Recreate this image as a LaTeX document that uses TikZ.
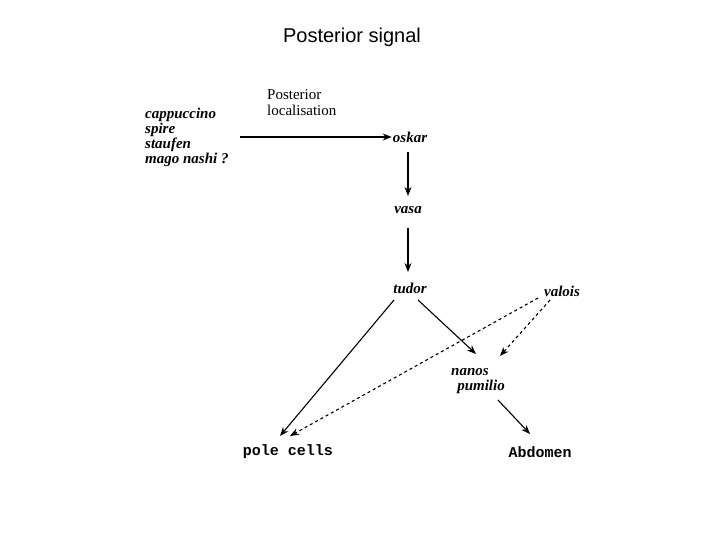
\documentclass[tikz,border=0pt]{standalone}
\usepackage{fontspec}
\setmainfont{Liberation Serif}
\newfontfamily\arialf{Liberation Sans}
\newfontfamily\monof{Liberation Mono}
\usetikzlibrary{arrows.meta}
\begin{document}
\begin{tikzpicture}[x=1pt,y=-1pt,
  gene/.style={font=\bfseries\itshape\fontsize{15}{17}\selectfont,inner sep=1pt},
  mono/.style={font=\monof\bfseries\fontsize{15}{17}\selectfont,inner sep=1pt},
  arr/.style={-{Stealth[length=9pt,width=7pt]},line width=1.1pt},
  darr/.style={arr,dashed}]
\useasboundingbox (0,0) rectangle (720,540);
\node[font=\arialf\fontsize{20}{24}\selectfont] (title) at (352,37) {Posterior signal};
\node[gene,anchor=north west,align=left] (list) at (144,107) {cappuccino\\[-2pt]spire\\[-2pt]staufen\\[-2pt]mago nashi ?};
\node[anchor=north west,align=left,font=\fontsize{15}{16}\selectfont,inner sep=1pt] (pl) at (266,88) {Posterior\\localisation};
\node[gene] (oskar) at (410,137) {oskar};
\node[gene] (vasa) at (408,210) {vasa};
\node[gene] (tudor) at (410,288) {tudor};
\node[gene] (valois) at (562,291) {valois};
\node[gene,align=left] (nanos) at (478,381) {nanos\\[-2pt]\hspace{6pt}pumilio};
\node[mono] (pole) at (288,452) {pole cells};
\node[mono] (abd) at (540,452) {Abdomen};
\coordinate (ls) at (240,137);
\draw[arr] (ls) -- (oskar.west);
\draw[arr] (408,152) -- (408,196);
\draw[arr] (408,228) -- (408,272);
\draw[arr] (394,300) -- (280,436);
\draw[arr] (418,300) -- (476,354);
\draw[darr] (538,298) -- (290,436);
\draw[darr] (550,300) -- (500,356);
\draw[arr] (498,400) -- (530,434);
\end{tikzpicture}
\end{document}
